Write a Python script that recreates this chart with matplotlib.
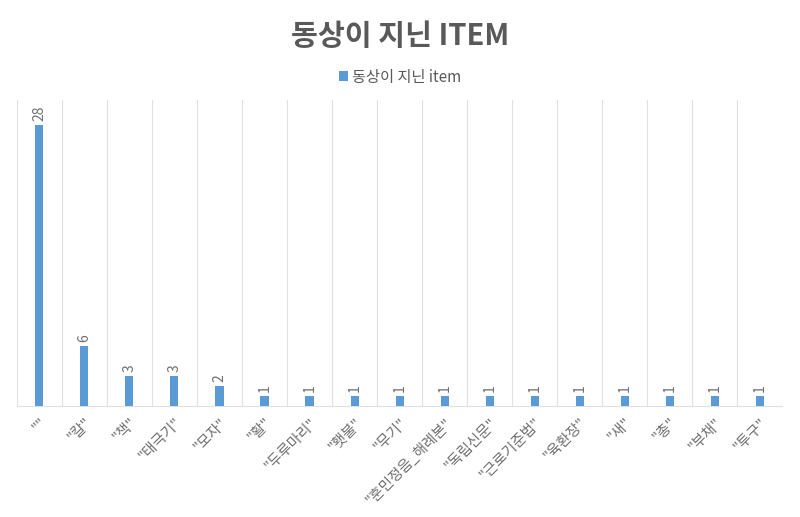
import matplotlib
matplotlib.use('Agg')
import matplotlib.pyplot as plt
import numpy as np

plt.rcParams['font.family'] = ['Noto Sans CJK KR', 'DejaVu Sans']

# data
items = ['""', '"칼"', '"책"', '"태극기"', '"모자"', '"활"', '"두루마리"', '"횃불"', '"무기"',
         '"훈민정음_해례본"', '"독립신문"', '"근로기준법"', '"육환장"', '"새"', '"총"', '"부채"', '"투구"']
counts = [28, 6, 3, 3, 2, 1, 1, 1, 1, 1, 1, 1, 1, 1, 1, 1, 1]

bar_color = '#5b9bd5'
text_color = '#595959'
label_color = '#6f6f6f'
grid_color = '#e0e0e0'

fig = plt.figure(figsize=(8, 5.17), dpi=100)
ax = fig.add_axes([0.021, 0.215, 0.957, 0.592])

x = np.arange(len(items))
bars = ax.bar(x, counts, width=0.18, color=bar_color, label='동상이 지닌 item', zorder=3)

for xi, c in zip(x, counts):
    ax.text(xi, c + 0.4, str(c), rotation=90, ha='center', va='bottom',
            fontsize=10, color=label_color)

ax.set_xlim(-0.5, len(items) - 0.5)
ax.set_ylim(0, 30.5)
ax.set_yticks([])

# vertical separators between categories
for b in np.arange(-0.5, len(items), 1.0):
    ax.axvline(b, color=grid_color, lw=0.8, zorder=1)

ax.set_xticks(x)
ax.set_xticklabels(items, rotation=45, ha='right', rotation_mode='anchor',
                   fontsize=10.5, color=label_color)
ax.tick_params(axis='x', length=0, pad=7)

for s in ['top', 'left', 'right']:
    ax.spines[s].set_visible(False)
ax.spines['bottom'].set_color(grid_color)

fig.text(0.5, 0.93, '동상이 지닌 ITEM', ha='center', va='center',
         fontsize=21, fontweight='bold', color=text_color)

leg = fig.legend(handles=[bars], loc='center', bbox_to_anchor=(0.5, 0.851),
                 frameon=False, fontsize=11, handlelength=0.6, handleheight=0.6,
                 handletextpad=0.3)
for t in leg.get_texts():
    t.set_color(text_color)

fig.savefig('out.png', dpi=100)
